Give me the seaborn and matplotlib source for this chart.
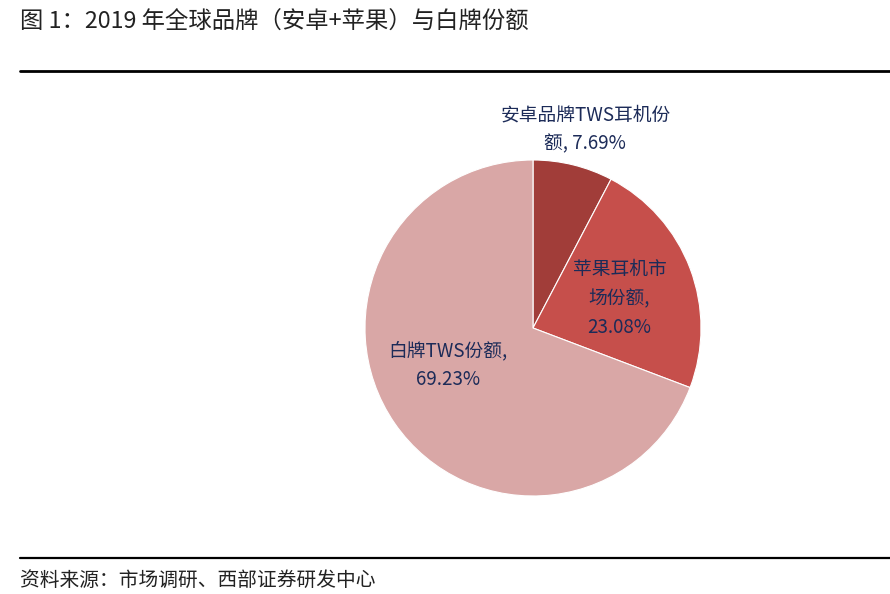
import matplotlib
matplotlib.use("Agg")
import matplotlib.pyplot as plt
import seaborn as sns
import numpy as np

# Data
segments = ["安卓品牌TWS耳机份额", "苹果耳机市场份额", "白牌TWS份额"]
shares = [7.69, 23.08, 69.23]
label_text = ["安卓品牌TWS耳机份\n额, 7.69%", "苹果耳机市\n场份额,\n23.08%", "白牌TWS份额,\n69.23%"]
colors = ["#A13D39", "#C64F4B", "#D9A7A6"]

sns.set_theme(style="white")
plt.rcParams["font.family"] = ["Noto Sans CJK SC", "DejaVu Sans"]

fig = plt.figure(figsize=(8.9, 5.94), dpi=100)
fig.patch.set_facecolor("white")

# pie axes: centre ~(533, 328) px, radius ~168 px
W, H = 890, 594
cx, cy, r = 533, 328, 168
ax = fig.add_axes([(cx - r) / W, (H - cy - r) / H, 2 * r / W, 2 * r / H])
wedges, _ = ax.pie(shares, colors=colors, startangle=90, counterclock=False,
                   wedgeprops=dict(edgecolor="white", linewidth=0.8))
ax.set_xlim(-1, 1)
ax.set_ylim(-1, 1)
ax.set_aspect("equal")
ax.axis("off")

# label placement (radius, extra dx, extra dy) relative to wedge mid angle
place = [(1.22, 0.02, 0.0), (0.55, 0.0, -0.02), (0.6, -0.01, 0.12)]
for w, txt, (rad, dx, dy) in zip(wedges, label_text, place):
    ang = np.deg2rad((w.theta1 + w.theta2) / 2)
    ax.text(rad * np.cos(ang) + dx, rad * np.sin(ang) + dy, txt,
            ha="center", va="center", fontsize=13.5, color="#1C2B58",
            linespacing=1.5, clip_on=False)

# title, rules and source
fig.text(20 / W, 1 - 22 / H, "图 1：2019 年全球品牌（安卓+苹果）与白牌份额",
         fontsize=16.8, color="#222222", ha="left", va="center")
fig.add_artist(plt.Line2D([20 / W, 1], [1 - 71 / H] * 2, color="black", lw=2))
fig.add_artist(plt.Line2D([20 / W, 1], [1 - 558 / H] * 2, color="black", lw=1.6))
fig.text(20 / W, 1 - 580 / H, "资料来源：市场调研、西部证券研发中心",
         fontsize=14.2, color="#222222", ha="left", va="center")

fig.savefig("out.png", dpi=100, facecolor="white")
